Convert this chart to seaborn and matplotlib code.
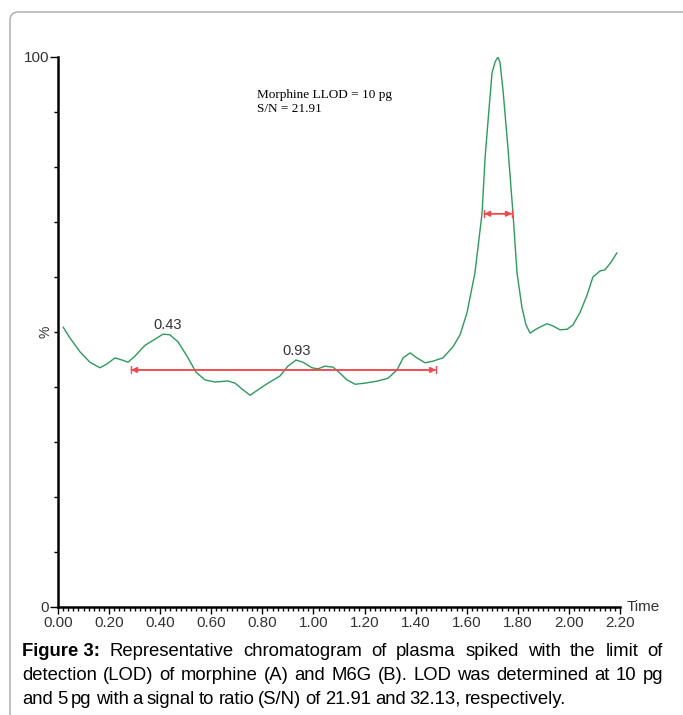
import numpy as np
import pandas as pd
import matplotlib
matplotlib.use("Agg")
import matplotlib.pyplot as plt
import seaborn as sns
from matplotlib.patches import FancyBboxPatch
from matplotlib.ticker import MultipleLocator

# ---- data ----
time = [0.020, 0.047, 0.086, 0.125, 0.164, 0.192, 0.223, 0.251, 0.274, 0.301,
        0.341, 0.380, 0.411, 0.438, 0.470, 0.509, 0.540, 0.575, 0.615, 0.665,
        0.693, 0.724, 0.752, 0.783, 0.822, 0.869, 0.900, 0.932, 0.959, 0.994,
        1.018, 1.045, 1.077, 1.104, 1.131, 1.163, 1.202, 1.253, 1.292, 1.327,
        1.351, 1.378, 1.405, 1.437, 1.468, 1.507, 1.546, 1.574, 1.601, 1.632,
        1.660, 1.672, 1.687, 1.699, 1.711, 1.722, 1.730, 1.742, 1.762, 1.781,
        1.797, 1.816, 1.832, 1.848, 1.867, 1.887, 1.914, 1.938, 1.965, 1.993,
        2.016, 2.043, 2.071, 2.094, 2.122, 2.141, 2.165, 2.188]
intensity = [50.9, 48.9, 46.4, 44.5, 43.5, 44.2, 45.3, 44.9, 44.5, 45.6,
             47.6, 48.7, 49.6, 49.5, 48.2, 45.3, 42.7, 41.3, 40.9, 41.1,
             40.7, 39.5, 38.5, 39.5, 40.7, 42.0, 43.8, 44.9, 44.5, 43.5,
             43.3, 43.8, 43.6, 42.5, 41.3, 40.5, 40.7, 41.1, 41.6, 43.1,
             45.3, 46.2, 45.3, 44.4, 44.7, 45.3, 47.3, 49.5, 53.5, 60.7,
             71.6, 81.8, 90.4, 97.1, 99.1, 100.0, 99.1, 94.0, 83.1, 71.6,
             60.7, 54.5, 51.3, 49.8, 50.4, 50.9, 51.5, 51.1, 50.4, 50.5,
             51.3, 53.5, 56.7, 60.0, 61.1, 61.3, 62.7, 64.4]

# noise band and peak width markers
noise_span = [0.286, 1.480]
noise_level = 43.1
peak_span = [1.668, 1.777]
peak_level = 71.5

peak_labels = ["0.43", "0.93"]
peak_label_t = [0.43, 0.935]
peak_label_y = [51.3, 46.5]

df = pd.DataFrame({"Time": time, "%": intensity})

sns.set_style("white")
plt.rcParams["font.family"] = ["Liberation Sans", "DejaVu Sans"]

fig = plt.figure(figsize=(6.83, 7.15), dpi=100)

# rounded frame around the figure
frame = FancyBboxPatch((10 / 683, -0.05), 1.1, (715 - 12) / 715 + 0.05,
                       boxstyle="round,pad=0,rounding_size=0.012",
                       transform=fig.transFigure, fill=False,
                       edgecolor="#a8a8a8", linewidth=1.0)
fig.patches.append(frame)

ax = fig.add_axes([58 / 683, (715 - 607) / 715, 562 / 683, 550 / 715])
sns.lineplot(data=df, x="Time", y="%", ax=ax, color="#2e9a5c", linewidth=1.0)

ax.set_xlim(0, 2.2)
ax.set_ylim(0, 100)
sns.despine(ax=ax)
for s in ["left", "bottom"]:
    ax.spines[s].set_linewidth(1.8)
    ax.spines[s].set_color("black")

ax.set_xticks(np.arange(0, 2.21, 0.2))
ax.set_xticklabels([f"{v:.2f}" for v in np.arange(0, 2.21, 0.2)])
ax.xaxis.set_minor_locator(MultipleLocator(0.02))
ax.set_yticks([0, 100])
ax.yaxis.set_minor_locator(MultipleLocator(10))
ax.tick_params(axis="both", which="both", bottom=True, left=True,
               direction="out", colors="black")
ax.tick_params(axis="both", which="major", length=5, width=1,
               labelsize=11, pad=1.5)
ax.tick_params(axis="y", which="major", length=6, pad=0.3)
ax.tick_params(axis="both", which="minor", length=3, width=1)
ax.tick_params(axis="both", labelcolor="#333333")

ax.set_xlabel("")
ax.set_ylabel("")
ax.text(1.012, 0.0, "Time", transform=ax.transAxes, fontsize=11,
        color="#333333", ha="left", va="center")
ax.text(-0.022, 0.5, "%", transform=ax.transAxes, fontsize=10, rotation=90,
        color="#333333", ha="center", va="center")

# peak labels
for lab, t, y in zip(peak_labels, peak_label_t, peak_label_y):
    ax.text(t, y, lab, fontsize=10.5, color="#333333", ha="center", va="center")

# red noise / width markers
red = "#f04a50"
for span, lev in [(noise_span, noise_level), (peak_span, peak_level)]:
    ax.annotate("", xy=(span[0], lev), xytext=(span[1], lev),
                arrowprops=dict(arrowstyle="<|-|>", color=red, lw=1.2,
                                mutation_scale=8, shrinkA=0, shrinkB=0))
    ax.annotate("", xy=(span[0], lev), xytext=(span[1], lev),
                arrowprops=dict(arrowstyle="|-|,widthA=0.25,widthB=0.25",
                                color=red, lw=1.0, shrinkA=0, shrinkB=0))

ax.text(0.779, 94.2, "Morphine LLOD = 10 pg\nS/N = 21.91",
        fontsize=9.5, family="Liberation Serif", ha="left", va="top",
        linespacing=1.2, color="black")

# caption, justified lines
cap_size = 13.3
cap_left, cap_right = 22, 663
cap_rows = [(["Figure 3:"] + "Representative chromatogram of plasma spiked with the limit of".split(" "), 651, True),
            ("detection (LOD) of morphine (A) and M6G (B). LOD was determined at 10 pg".split(" "), 675, True),
            ("and 5 pg with a signal to ratio (S/N) of 21.91 and 32.13, respectively.".split(" "), 699, False)]

renderer = fig.canvas.get_renderer()
for i, (words, ypix, justify) in enumerate(cap_rows):
    items = []
    for j, w in enumerate(words):
        bold = (i == 0 and j == 0)
        t = fig.text(0, 1 - ypix / 715, w, fontsize=cap_size,
                     fontweight="bold" if bold else "normal",
                     ha="left", va="center", color="black")
        items.append((t, t.get_window_extent(renderer).width))
    total = sum(wd for _, wd in items)
    space = (cap_right - cap_left - total) / (len(items) - 1) if justify else 4.0
    x = cap_left
    for t, wd in items:
        t.set_x(x / 683)
        x += wd + space

fig.savefig("out.png", dpi=100)
